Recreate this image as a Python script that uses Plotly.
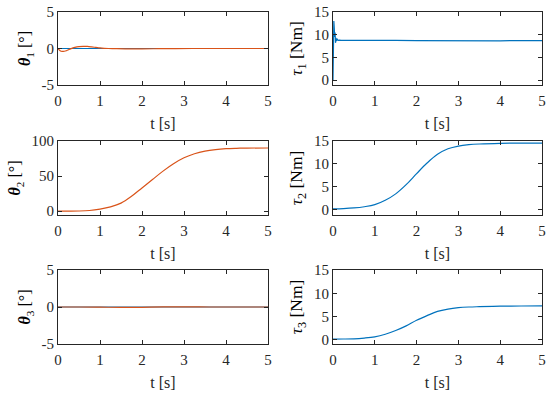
import plotly.graph_objects as go

# ---------------- data ----------------
t_th1 = [0, 0.05, 0.1, 0.15, 0.2, 0.3, 0.4, 0.5, 0.6, 0.7, 0.8, 0.9, 1.0, 1.1, 1.2, 1.4, 1.7, 2.0, 2.4, 2.8, 3.2, 3.6, 4.0, 4.5, 5.0]
th1_act = [0, -0.3, -0.4, -0.38, -0.3, -0.05, 0.15, 0.27, 0.3, 0.28, 0.22, 0.15, 0.08, 0.03, 0.0, -0.03, -0.04, -0.04, -0.03, -0.01, 0.0, 0.0, 0.0, 0.0, 0.0]
th1_ref = [0] * len(t_th1)

t_th2 = [0, 0.25, 0.5, 0.75, 1.0, 1.25, 1.5, 1.75, 2.0, 2.25, 2.5, 2.75, 3.0, 3.25, 3.5, 3.75, 4.0, 4.25, 4.5, 5.0]
th2_act = [0, 0, 0.1, 0.8, 2.8, 6.0, 11.3, 21.0, 33.0, 45.0, 57.0, 67.5, 76.0, 81.8, 85.5, 87.7, 89.0, 89.6, 89.9, 90.0]

t_tau1 = [0, 0.01, 0.02, 0.03, 0.04, 0.05, 0.06, 0.07, 0.08, 0.1, 0.12, 0.15, 0.2, 0.5, 1.0, 1.5, 2.0, 2.5, 3.0, 3.5, 4.0, 4.5, 5.0]
tau1 = [0, 7.0, 13.0, 11.5, 9.5, 10.5, 8.2, 9.3, 8.6, 9.0, 8.75, 8.8, 8.75, 8.75, 8.8, 8.75, 8.7, 8.65, 8.6, 8.6, 8.65, 8.7, 8.7]

t_tau = [0, 0.25, 0.5, 0.75, 1.0, 1.25, 1.5, 1.75, 2.0, 2.25, 2.5, 2.75, 3.0, 3.25, 3.5, 4.0, 4.5, 5.0]
tau2 = [0.25, 0.3, 0.43, 0.7, 1.15, 2.1, 3.5, 5.5, 7.9, 10.2, 12.1, 13.3, 13.9, 14.2, 14.35, 14.5, 14.55, 14.55]
tau3 = [0.15, 0.17, 0.22, 0.38, 0.65, 1.2, 2.0, 3.0, 4.2, 5.2, 6.1, 6.6, 6.9, 7.05, 7.12, 7.22, 7.27, 7.3]

t_th3 = [0, 0.5, 1.0, 1.5, 2.0, 2.5, 2.8, 3.2, 3.6, 4.0, 4.5, 5.0]
th3_act = [0, 0, -0.02, -0.05, -0.04, 0.02, 0.03, 0.02, 0.0, 0.0, 0.0, 0.0]
th3_ref = [0] * len(t_th3)

x_ticks = [0, 1, 2, 3, 4, 5]
th1_ticks = [-5, 0, 5]
th2_ticks = [0, 50, 100]
tau_ticks = [0, 5, 10, 15]

BLUE = "#0072BD"
ORANGE = "#D95319"
FONT = "Liberation Serif"
AX = "#262626"

fig = go.Figure()

def add(x, y, color, xa, ya, shape="spline"):
    fig.add_trace(go.Scatter(x=x, y=y, mode="lines", line=dict(color=color, width=1.2, shape=shape),
                             xaxis=xa, yaxis=ya, showlegend=False, hoverinfo="skip"))

add(t_th1, th1_ref, BLUE, "x", "y", "linear")
add(t_th1, th1_act, ORANGE, "x", "y")
add(t_tau1, tau1, BLUE, "x2", "y2", "linear")
add(t_th2, th2_act, ORANGE, "x3", "y3")
add(t_tau, tau2, BLUE, "x4", "y4")
add(t_th3, th3_ref, BLUE, "x5", "y5", "linear")
add(t_th3, th3_act, ORANGE, "x5", "y5")
add(t_tau, tau3, BLUE, "x6", "y6")

W, H = 550, 393
cols = [(58, 268), (333, 542)]
rows = [(12, 85), (141, 215), (270, 344)]

def xd(c):
    return [cols[c][0] / W, cols[c][1] / W]

def yd(r):
    return [1 - rows[r][1] / H, 1 - rows[r][0] / H]

def ticktxt(v):
    return [str(a) for a in v]

common = dict(showline=True, linecolor=AX, linewidth=1, mirror="ticks", ticks="inside",
              ticklen=4, tickcolor=AX, showgrid=False, zeroline=False,
              ticklabeloverflow="allow", automargin=False,
              tickfont=dict(family=FONT, size=15, color=AX))

ylabels = ["<b><i>θ</i></b><sub>1</sub> [°]", "<i>τ</i><sub>1</sub> [Nm]",
           "<b><i>θ</i></b><sub>2</sub> [°]", "<i>τ</i><sub>2</sub> [Nm]",
           "<b><i>θ</i></b><sub>3</sub> [°]", "<i>τ</i><sub>3</sub> [Nm]"]
ysizes = [16, 17.5, 16, 17.5, 16, 17.5]
yranges = [[-5, 5], [-1.1, 15], [-5.6, 100], [-1.1, 15], [-5, 5], [-0.9, 15]]
yticks = [th1_ticks, tau_ticks, th2_ticks, tau_ticks, th1_ticks, tau_ticks]

layout = dict(width=W, height=H, margin=dict(l=0, r=0, t=0, b=0, autoexpand=False),
              paper_bgcolor="white", plot_bgcolor="white", template="none",
              font=dict(family=FONT, color=AX))
for i in range(6):
    r, c = divmod(i, 2)
    sfx = "" if i == 0 else str(i + 1)
    layout["xaxis" + sfx] = dict(common, domain=xd(c), range=[0, 5], tickvals=x_ticks,
                                 ticktext=ticktxt(x_ticks), anchor="y" + sfx, ticklabelstandoff=2,
                                 title=dict(text="t [s]", font=dict(family=FONT, size=16, color=AX), standoff=9))
    layout["yaxis" + sfx] = dict(common, domain=yd(r), range=yranges[i], tickvals=yticks[i],
                                 ticktext=ticktxt(yticks[i]), anchor="x" + sfx,
                                 title=dict(text=ylabels[i], font=dict(family=FONT, size=ysizes[i], color="black"), standoff=6))
fig.update_layout(**layout)
fig.write_html("out.html", config={"displayModeBar": False},
               post_script="document.body.style.margin='0px';document.body.style.overflow='hidden';")
